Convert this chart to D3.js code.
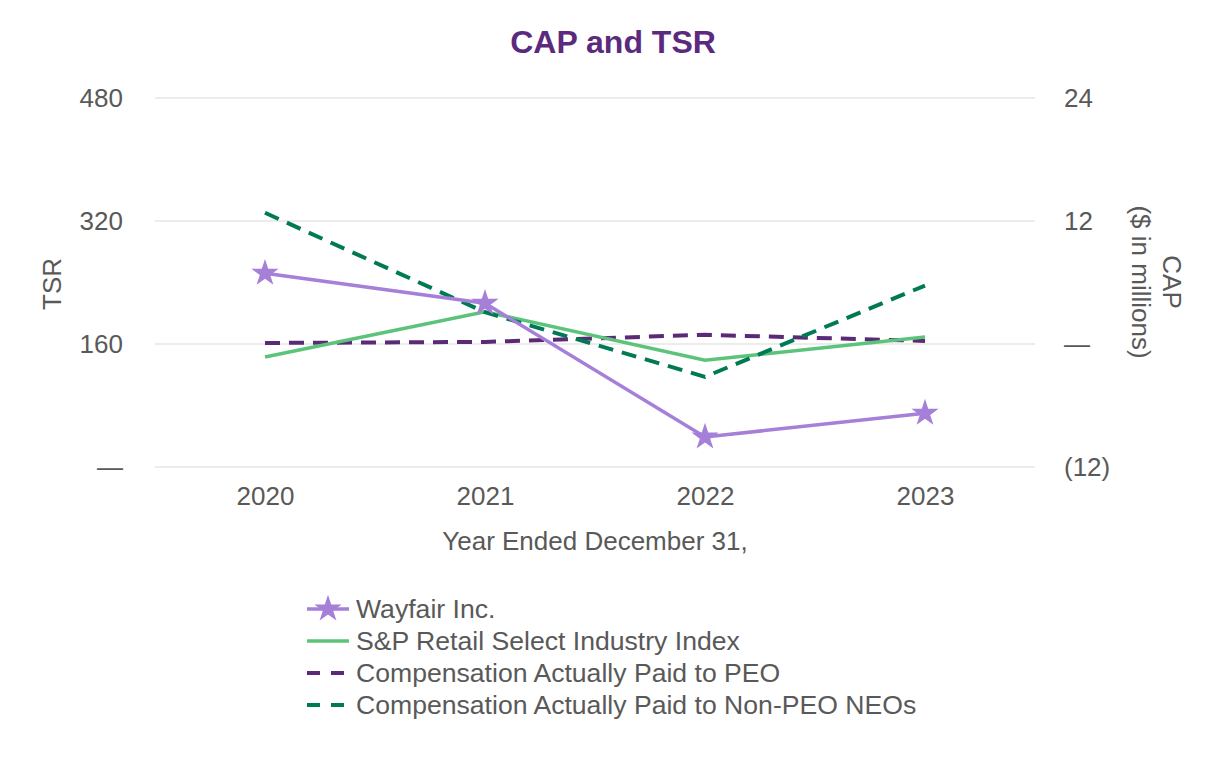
<!DOCTYPE html>
<html><head><meta charset="utf-8">
<script src="https://cdn.jsdelivr.net/npm/d3@7"></script>
<style>body{margin:0;background:#fff;font-family:Arial,"Liberation Sans",sans-serif;}</style>
</head><body><svg id="c" width="1226" height="760"></svg>
<script>
const years = ["2020","2021","2022","2023"];
const wayfair = [252, 213, 39, 70];
const spRetail = [143, 202, 139, 169];
const capPEO = [0.1, 0.2, 0.9, 0.3];
const capNonPEO = [12.8, 3.1, -3.2, 5.7];
const tsrTicks = [0, 160, 320, 480];
const capTicks = [-12, 0, 12, 24];
const seriesNames = ["Wayfair Inc.","S&P Retail Select Industry Index","Compensation Actually Paid to PEO","Compensation Actually Paid to Non-PEO NEOs"];

const svg = d3.select("#c");
const txt = "#595959";
const fs = 26;
const x = d3.scalePoint().domain(years).range([265,925]);
const yL = d3.scaleLinear().domain([0,480]).range([467,98]);
const yR = d3.scaleLinear().domain([-12,24]).range([467,98]);

svg.append("text").attr("x",613).attr("y",53).attr("text-anchor","middle")
  .attr("font-size",32).attr("font-weight","bold").attr("fill","#5b2a7e").text("CAP and TSR");

// gridlines
svg.append("g").selectAll("line").data(tsrTicks).join("line")
  .attr("x1",155).attr("x2",1035).attr("y1",d=>yL(d)).attr("y2",d=>yL(d))
  .attr("stroke","#e6e6e6").attr("stroke-width",1.5);

const fmtL = d => d===0 ? "—" : d;
const fmtR = d => d===0 ? "—" : d<0 ? "("+Math.abs(d)+")" : d;

const axL = svg.append("g").attr("transform","translate(155,0)")
  .call(d3.axisLeft(yL).tickValues(tsrTicks).tickFormat(fmtL).tickSize(0).tickPadding(32));
const axR = svg.append("g").attr("transform","translate(1035,0)")
  .call(d3.axisRight(yR).tickValues(capTicks).tickFormat(fmtR).tickSize(0).tickPadding(29));
const axB = svg.append("g").attr("transform","translate(0,467)")
  .call(d3.axisBottom(x).tickSize(0).tickPadding(20));
[axL,axR,axB].forEach(a=>{a.select(".domain").remove();
  a.selectAll("text").attr("font-size",fs).attr("fill",txt).attr("font-family","Arial,'Liberation Sans',sans-serif");});

svg.append("text").attr("transform","translate(61,284) rotate(-90)").attr("text-anchor","middle")
  .attr("font-size",fs).attr("fill",txt).text("TSR");
const capLbl = svg.append("g").attr("transform","translate(1163,282) rotate(90)");
capLbl.append("text").attr("text-anchor","middle").attr("y",0).attr("font-size",fs).attr("fill",txt).text("CAP");
capLbl.append("text").attr("text-anchor","middle").attr("y",31).attr("font-size",fs).attr("fill",txt).text("($ in millions)");

svg.append("text").attr("x",595).attr("y",550).attr("text-anchor","middle")
  .attr("font-size",fs).attr("fill",txt).text("Year Ended December 31,");

const colors = ["#a57fd8","#5cc37a","#5b2a76","#007a54"];
const lineL = d3.line().x((d,i)=>x(years[i])).y(d=>yL(d));
const lineR = d3.line().x((d,i)=>x(years[i])).y(d=>yR(d));

svg.append("path").attr("d",lineR(capPEO)).attr("fill","none").attr("stroke",colors[2]).attr("stroke-width",4).attr("stroke-dasharray","15,9");
svg.append("path").attr("d",lineL(spRetail)).attr("fill","none").attr("stroke",colors[1]).attr("stroke-width",3.5);
svg.append("path").attr("d",lineR(capNonPEO)).attr("fill","none").attr("stroke",colors[3]).attr("stroke-width",4).attr("stroke-dasharray","15,9");
svg.append("path").attr("d",lineL(wayfair)).attr("fill","none").attr("stroke",colors[0]).attr("stroke-width",3.5);
const star = d3.symbol().type(d3.symbolStar).size(230);
svg.append("g").selectAll("path").data(wayfair).join("path")
  .attr("transform",(d,i)=>`translate(${x(years[i])},${yL(d)})`).attr("d",star).attr("fill",colors[0]);

// legend
const lg = svg.append("g");
seriesNames.forEach((n,i)=>{
  const yy = 609 + i*32;
  const g = lg.append("g").attr("transform",`translate(307,${yy})`);
  if(i<2){
    g.append("line").attr("x1",0).attr("x2",42).attr("stroke",colors[i]).attr("stroke-width",3.5);
  } else {
    g.append("line").attr("x1",0).attr("x2",42).attr("stroke",colors[i]).attr("stroke-width",4).attr("stroke-dasharray","13,11");
  }
  if(i===0) g.append("path").attr("transform","translate(21,0)").attr("d",star).attr("fill",colors[0]);
  g.append("text").attr("x",49).attr("y",9).attr("font-size",26.6).attr("fill",txt).text(n);
});
</script></body></html>
